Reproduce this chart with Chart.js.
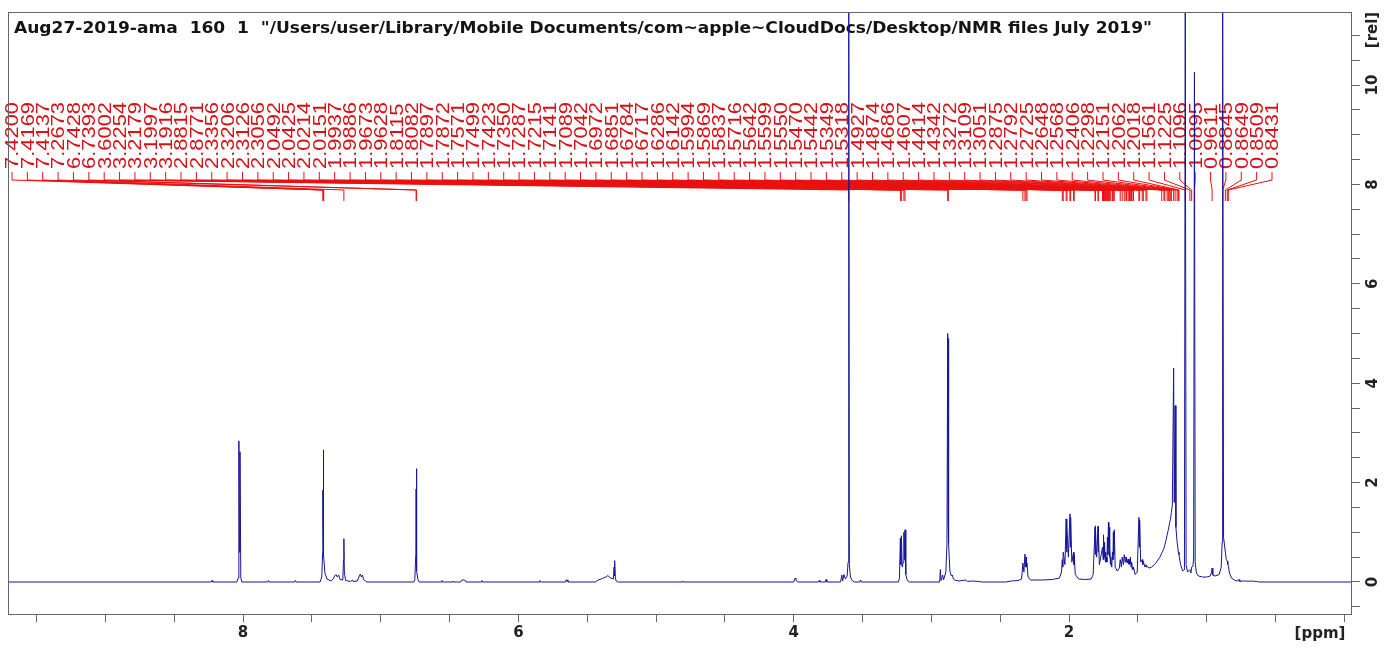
<!DOCTYPE html>
<html>
<head>
<meta charset="utf-8">
<script src="https://cdn.jsdelivr.net/npm/chart.js@4.4.1/dist/chart.umd.min.js"></script>
<style>
    html, body { margin: 0; padding: 0; background: #fff; }
    canvas { display: block; }
</style>
</head>
<body>
<canvas id="nmrChart" width="1386" height="648"></canvas>
<script>
const titleText = 'Aug27-2019-ama  160  1  "/Users/user/Library/Mobile Documents/com~apple~CloudDocs/Desktop/NMR files July 2019"';

// spectrum: chemical shift [ppm] and intensity [rel]
const specPpm = [
    9.707, 8.23, 8.225, 8.22,
    8.045, 8.035, 8.03, 8.026, 8.022, 8.016, 8.008,
    7.82, 7.815, 7.81, 7.625, 7.62, 7.615,
    7.44, 7.428, 7.4215, 7.42, 7.4185, 7.4169, 7.415, 7.4137, 7.405, 7.39,
    7.36, 7.345, 7.335, 7.325, 7.315, 7.305, 7.295, 7.275, 7.27, 7.2673, 7.264, 7.255,
    7.22, 7.205, 7.2, 7.17, 7.155, 7.148, 7.14, 7.132, 7.125, 7.11, 7.1,
    6.76, 6.752, 6.7445, 6.7428, 6.741, 6.7393, 6.737, 6.73, 6.72,
    6.56, 6.555, 6.55, 6.48, 6.475, 6.47, 6.42, 6.41, 6.39, 6.38, 6.27, 6.265, 6.26,
    5.85, 5.845, 5.84, 5.66, 5.655, 5.645, 5.64,
    5.44, 5.42, 5.39, 5.365, 5.35, 5.335, 5.32, 5.31, 5.305, 5.302, 5.299, 5.296, 5.29, 5.28,
    4.81, 4.805, 4.8, 4.0, 3.995, 3.99, 3.985, 3.98, 3.97,
    3.82, 3.815, 3.81, 3.77, 3.765, 3.76,
    3.66, 3.65, 3.645, 3.635, 3.625, 3.612, 3.605, 3.6002, 3.596, 3.588, 3.575, 3.56,
    3.52, 3.515, 3.51,
    3.24, 3.232, 3.2254, 3.222, 3.2179, 3.212, 3.205, 3.1997, 3.196, 3.1916, 3.186, 3.175, 3.16,
    2.94, 2.935, 2.93, 2.918, 2.912, 2.895, 2.887, 2.8815, 2.879, 2.8771, 2.873, 2.866, 2.855, 2.848, 2.84, 2.83,
    2.8, 2.75, 2.74, 2.7, 2.66, 2.63, 2.46, 2.42, 2.37, 2.345,
    2.3356, 2.328, 2.3206, 2.316, 2.3126, 2.309, 2.3056, 2.298, 2.28, 2.2, 2.12, 2.07, 2.055,
    2.0492, 2.046, 2.0425, 2.03, 2.0214, 2.018, 2.0151, 2.005, 1.9937, 1.991, 1.9886, 1.98, 1.9673, 1.965, 1.9628, 1.955, 1.93, 1.88, 1.84, 1.825,
    1.8115, 1.81, 1.8082, 1.8, 1.7897, 1.788, 1.7872, 1.78,
    1.7571, 1.753, 1.7499, 1.746, 1.7423, 1.739, 1.735, 1.732, 1.7287, 1.725, 1.7215, 1.718, 1.7141, 1.711, 1.7089, 1.706, 1.7042, 1.7,
    1.6972, 1.69, 1.6851, 1.681, 1.6784, 1.675, 1.6717, 1.665, 1.65,
    1.635, 1.6286, 1.62, 1.6142, 1.605, 1.5994, 1.592, 1.5869, 1.585, 1.5837, 1.578, 1.5716, 1.567, 1.5642, 1.562, 1.5599, 1.557, 1.555, 1.55, 1.547, 1.545, 1.5442, 1.54, 1.5349, 1.533, 1.5318, 1.52,
    1.505, 1.4927, 1.49, 1.4874, 1.48, 1.4686, 1.465, 1.4607, 1.45, 1.4414, 1.438, 1.4342, 1.42, 1.4, 1.38, 1.36, 1.34,
    1.3272, 1.32, 1.3109, 1.3051, 1.295, 1.2875, 1.2792, 1.2725, 1.2648, 1.2568, 1.25, 1.2406, 1.236, 1.2298, 1.224, 1.2151, 1.2062, 1.2018, 1.19, 1.175, 1.165,
    1.162, 1.1561, 1.15, 1.14, 1.1225, 1.115, 1.1096, 1.1, 1.095, 1.0895, 1.084, 1.075, 1.06, 1.03, 1.0,
    0.975, 0.965, 0.9611, 0.956, 0.94, 0.91, 0.895, 0.888, 0.8845, 0.878, 0.8649, 0.858, 0.8509, 0.847, 0.8431, 0.835, 0.82, 0.8,
    0.78, 0.765, 0.76, 0.74, 0.72, 0.7, 0.68, 0.66, 0.64, 0.62, -0.055
];
const specRel = [
    0, 0, 0.03, 0,
    0, 0.08, 2.84, 0.6, 2.62, 0.08, 0,
    0, 0.03, 0, 0, 0.03, 0,
    0, 0.1, 0.6, 1.85, 1.1, 2.66, 0.7, 0.55, 0.18, 0.06,
    0.02, 0.06, 0.12, 0.15, 0.1, 0.14, 0.05, 0.04, 0.45, 0.87, 0.2, 0.03,
    0.01, 0.04, 0.01, 0.02, 0.12, 0.16, 0.1, 0.14, 0.05, 0.02, 0,
    0, 0.05, 0.6, 1.87, 0.5, 2.28, 0.22, 0.05, 0,
    0, 0.03, 0, 0, 0.02, 0, 0, 0.04, 0.04, 0, 0, 0.03, 0,
    0, 0.03, 0, 0, 0.04, 0.04, 0,
    0, 0.04, 0.07, 0.1, 0.13, 0.09, 0.07, 0.06, 0.3, 0.12, 0.43, 0.1, 0.02, 0,
    0, 0.02, 0, 0, 0.04, 0.08, 0.06, 0.02, 0,
    0, 0.03, 0, 0, 0.05, 0,
    0, 0.14, 0.02, 0.15, 0.06, 0.12, 0.4, 12, 0.35, 0.1, 0.03, 0,
    0, 0.04, 0,
    0, 0.08, 0.88, 0.35, 0.93, 0.3, 0.4, 1.0, 0.45, 1.05, 0.15, 0.03, 0,
    0, 0.25, 0.03, 0.14, 0.04, 0.2, 0.75, 5.0, 1.3, 4.9, 0.78, 0.22, 0.12, 0.14, 0.06, 0.04,
    0.02, 0.04, 0.01, 0.02, 0.01, 0, 0, 0.02, 0.03, 0.06,
    0.38, 0.2, 0.56, 0.3, 0.5, 0.3, 0.38, 0.1, 0.04, 0.04, 0.05, 0.08, 0.2,
    0.45, 0.3, 0.6, 0.35, 1.27, 0.6, 1.15, 0.5, 1.37, 0.7, 1.3, 0.4, 0.6, 0.35, 0.55, 0.15, 0.06, 0.05, 0.06, 0.15,
    1.1, 0.55, 1.13, 0.5, 1.12, 0.6, 1.05, 0.35,
    0.7, 0.45, 0.95, 0.5, 0.8, 0.45, 0.6, 0.4, 0.5, 0.4, 0.9, 0.55, 1.2, 0.7, 1.1, 0.5, 0.7, 0.35,
    0.5, 0.3, 0.6, 0.45, 1.0, 0.55, 1.05, 0.3, 0.22,
    0.28, 0.45, 0.3, 0.5, 0.35, 0.55, 0.4, 0.5, 0.42, 0.5, 0.38, 0.46, 0.36, 0.42, 0.35, 0.45, 0.38, 0.5, 0.3, 0.35, 0.3, 0.4, 0.25, 0.3, 0.25, 0.3, 0.15,
    0.2, 1.3, 0.7, 1.25, 0.4, 0.45, 0.35, 0.42, 0.3, 0.35, 0.3, 0.32, 0.28, 0.3, 0.35, 0.42, 0.5,
    0.58, 0.62, 0.68, 0.74, 0.85, 0.95, 1.05, 1.15, 1.25, 1.4, 1.55, 4.3, 1.6, 3.55, 1.1, 0.8, 0.6, 0.55, 0.35, 0.22, 0.25,
    0.3, 12, 0.35, 0.2, 0.25, 0.18, 0.3, 0.32, 0.5, 10.26, 0.4, 0.18, 0.12, 0.1, 0.1,
    0.12, 0.2, 0.28, 0.14, 0.12, 0.15, 0.3, 0.8, 12, 0.9, 0.6, 0.45, 0.42, 0.35, 0.33, 0.18, 0.08, 0.04,
    0.02, 0.05, 0.01, 0.02, 0.02, 0.015, 0.02, 0.015, 0.01, 0, 0
];

// picked peaks, as printed above the spectrum
const peakLabels = [
    "7.4200", "7.4169", "7.4137", "7.2673", "6.7428", "6.7393", "3.6002",
    "3.2254", "3.2179", "3.1997", "3.1916", "2.8815", "2.8771", "2.3356",
    "2.3206", "2.3126", "2.3056", "2.0492", "2.0425", "2.0214", "2.0151",
    "1.9937", "1.9886", "1.9673", "1.9628", "1.8115", "1.8082", "1.7897",
    "1.7872", "1.7571", "1.7499", "1.7423", "1.7350", "1.7287", "1.7215",
    "1.7141", "1.7089", "1.7042", "1.6972", "1.6851", "1.6784", "1.6717",
    "1.6286", "1.6142", "1.5994", "1.5869", "1.5837", "1.5716", "1.5642",
    "1.5599", "1.5550", "1.5470", "1.5442", "1.5349", "1.5318", "1.4927",
    "1.4874", "1.4686", "1.4607", "1.4414", "1.4342", "1.3272", "1.3109",
    "1.3051", "1.2875", "1.2792", "1.2725", "1.2648", "1.2568", "1.2406",
    "1.2298", "1.2151", "1.2062", "1.2018", "1.1561", "1.1225", "1.1096",
    "1.0895", "0.9611", "0.8845", "0.8649", "0.8509", "0.8431"
];

const xTickValues = [9.5, 9, 8.5, 8, 7.5, 7, 6.5, 6, 5.5, 5, 4.5, 4, 3.5, 3, 2.5, 2, 1.5, 1, 0.5, 0];
const xTickLabels = ["", "", "", "8", "", "", "", "6", "", "", "", "4", "", "", "", "2", "", "", "", ""];
const yTickValues = [-0.5, 0, 0.5, 1, 1.5, 2, 2.5, 3, 3.5, 4, 4.5, 5, 5.5, 6, 6.5, 7, 7.5, 8, 8.5, 9, 9.5, 10, 10.5, 11];
const yTickLabels = ["", "0", "", "", "", "2", "", "", "", "4", "", "", "", "6", "", "", "", "8", "", "", "", "10", "", ""];

const axisFont = { family: "DejaVu Sans", weight: "bold", size: 15 };
const frameColor = "#666";

// title, peak list and unit labels, drawn under the spectrum
const annotationPlugin = {
    id: "annotations",
    beforeDatasetsDraw(chart) {
        const { ctx, chartArea, scales } = chart;
        ctx.save();

        ctx.font = 'bold 16px "DejaVu Sans"';
        ctx.fillStyle = "#141414";
        const titleW = ctx.measureText(titleText).width;
        ctx.save();
        ctx.translate(chartArea.left + 6, 33);
        ctx.scale(1138 / titleW, 1);
        ctx.fillText(titleText, 0, 0);
        ctx.restore();

        ctx.font = '18px "Liberation Sans"';
        const stretch = 67 / ctx.measureText("7.4200").width;
        const first = 12;
        const last = 1272;
        const step = (last - first) / (peakLabels.length - 1);
        ctx.fillStyle = "rgb(214, 18, 24)";
        ctx.strokeStyle = "rgb(234, 16, 16)";
        ctx.lineWidth = 1;
        peakLabels.forEach((label, i) => {
            const lx = first + i * step;
            const px = scales.x.getPixelForValue(parseFloat(label));
            ctx.save();
            ctx.translate(lx, 169);
            ctx.rotate(-Math.PI / 2);
            ctx.scale(stretch, 1);
            ctx.textBaseline = "alphabetic";
            ctx.fillText(label, 0, 6.4);
            ctx.restore();
            ctx.beginPath();
            ctx.moveTo(lx, 172);
            ctx.lineTo(lx, 180);
            ctx.lineTo(px, 190);
            ctx.lineTo(px, 201);
            ctx.stroke();
        });

        ctx.restore();
    },
    afterDraw(chart) {
        const { ctx, chartArea } = chart;
        ctx.save();
        ctx.strokeStyle = frameColor;
        ctx.lineWidth = 1;
        ctx.strokeRect(chartArea.left + 0.5, chartArea.top + 0.5,
            chartArea.right - chartArea.left - 1, chartArea.bottom - chartArea.top);

        ctx.font = 'bold 15px "DejaVu Sans"';
        ctx.fillStyle = "#222";
        ctx.textAlign = "center";
        ctx.textBaseline = "middle";
        ctx.fillText("[ppm]", 1320, 634);
        ctx.translate(1373, 30);
        ctx.rotate(-Math.PI / 2);
        ctx.fillText("[rel]", 0, 0);
        ctx.restore();
    }
};

const spectrum = specPpm.map((ppm, i) => ({ x: ppm, y: specRel[i] }));

new Chart(document.getElementById("nmrChart"), {
    type: "line",
    data: {
        datasets: [
            {
                data: spectrum,
                borderColor: "rgb(22, 22, 150)",
                borderWidth: 1,
                pointRadius: 0,
                tension: 0,
                fill: false,
            },
        ],
    },
    options: {
        responsive: false,
        animation: false,
        devicePixelRatio: 1,
        layout: { padding: { left: 8, top: 12, right: 0, bottom: 0 } },
        plugins: { legend: { display: false }, tooltip: { enabled: false } },
        scales: {
            x: {
                type: "linear",
                reverse: true,
                min: -0.055,
                max: 9.707,
                afterBuildTicks: (axis) => {
                    axis.ticks = xTickValues.map((v) => ({ value: v }));
                },
                afterFit: (axis) => {
                    axis.height = 34;
                },
                border: { display: false },
                grid: { drawOnChartArea: false, tickLength: 8, color: frameColor },
                ticks: {
                    autoSkip: false,
                    maxRotation: 0,
                    padding: 2,
                    color: "#222",
                    font: axisFont,
                    callback: (v) => xTickLabels[xTickValues.indexOf(v)],
                },
            },
            y: {
                type: "linear",
                position: "right",
                min: -0.644,
                max: 11.47,
                afterBuildTicks: (axis) => {
                    axis.ticks = yTickValues.map((v) => ({ value: v }));
                },
                afterFit: (axis) => {
                    axis.width = 34;
                },
                border: { display: false },
                grid: { drawOnChartArea: false, tickLength: 8, color: frameColor },
                ticks: {
                    autoSkip: false,
                    minRotation: 90,
                    maxRotation: 90,
                    crossAlign: "center",
                    padding: 3,
                    color: "#222",
                    font: axisFont,
                    callback: (v) => yTickLabels[yTickValues.indexOf(v)],
                },
            },
        },
    },
    plugins: [annotationPlugin],
});
</script>
</body>
</html>
